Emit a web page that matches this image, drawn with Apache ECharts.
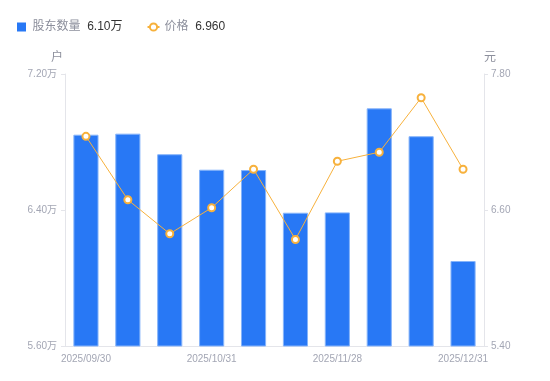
<!DOCTYPE html>
<html>
<head>
<meta charset="utf-8">
<script src="https://cdn.jsdelivr.net/npm/echarts@6/dist/echarts.min.js"></script>
<style>
html,body{margin:0;padding:0;background:#fff;}
#chart{width:550px;height:381px;}
</style>
</head>
<body>
<div id="chart"></div>
<script>
const categories = ['2025/09/30','2025/10/10','2025/10/20','2025/10/31','2025/11/10','2025/11/20','2025/11/28','2025/12/10','2025/12/19','2025/12/31'];
const holders = [6.843, 6.849, 6.728, 6.637, 6.635, 6.384, 6.386, 6.998, 6.834, 6.10]; // 万户
const prices = [7.25, 6.69, 6.39, 6.62, 6.96, 6.34, 7.03, 7.11, 7.59, 6.96];
const leftTicks = [5.6, 7.2];
const rightTicks = [5.4, 7.8];

const blue = '#2878F5';
const orange = '#F7B13C';
const labelGray = '#A3A6B4';
const axisGray = '#E4E5EA';
const font = '"Liberation Sans","Noto Sans CJK SC",sans-serif';

const chart = echarts.init(document.getElementById('chart'), null, {renderer:'canvas'});
const lastHolder = holders[holders.length-1].toFixed(2) + '万';
const lastPrice = prices[prices.length-1].toFixed(3);

chart.setOption({
  animation:false,
  textStyle:{fontFamily:font},
  legend:{
    left:12, top:16,
    itemWidth:12, itemHeight:9, itemGap:24,
    data:[
      {name:'股东数量', icon:'path://M0 0H10V10H0Z', itemStyle:{borderWidth:0}},
      {name:'价格'}
    ],
    formatter: function(name){
      return name === '股东数量' ? '{a|股东数量}  {b|' + lastHolder + '}' : '{a|价格}  {b|' + lastPrice + '}';
    },
    textStyle:{
      fontFamily:font,
      rich:{
        a:{color:'#8C8F9C', fontSize:12, fontFamily:font},
        b:{color:'#333', fontSize:12, fontFamily:font}
      }
    }
  },
  grid:{left:65, right:66, top:74, bottom:35},
  xAxis:{
    type:'category',
    data:categories,
    axisLine:{lineStyle:{color:axisGray}},
    axisTick:{show:false},
    axisLabel:{interval:2, color:labelGray, fontSize:10, margin:8, fontFamily:font}
  },
  yAxis:[
    {
      type:'value', min:leftTicks[0], max:leftTicks[1], interval:0.8,
      name:'户', nameLocation:'end', nameGap:10,
      nameTextStyle:{color:'#8C8F9C', fontSize:12, align:'right', padding:[0,2,0,0], fontFamily:font},
      axisLine:{show:true, lineStyle:{color:axisGray}},
      axisTick:{show:true, length:4, lineStyle:{color:axisGray}},
      splitLine:{show:false},
      axisLabel:{color:labelGray, fontSize:10, margin:8, fontFamily:font, formatter:v=>v.toFixed(2)+'万'}
    },
    {
      type:'value', min:rightTicks[0], max:rightTicks[1], alignTicks:true,
      name:'元', nameLocation:'end', nameGap:10,
      nameTextStyle:{color:'#8C8F9C', fontSize:12, align:'left', fontFamily:font},
      axisLine:{show:true, lineStyle:{color:axisGray}},
      axisTick:{show:true, length:4, lineStyle:{color:axisGray}},
      splitLine:{show:false},
      axisLabel:{color:labelGray, fontSize:10, margin:7, fontFamily:font, formatter:v=>v.toFixed(2)}
    }
  ],
  series:[
    {
      name:'股东数量', type:'bar', yAxisIndex:0, data:holders, barWidth:'60%',
      itemStyle:{color:blue, borderColor:'#86B4FA', borderWidth:1}
    },
    {
      name:'价格', type:'line', yAxisIndex:1, data:prices,
      symbol:'circle', symbolSize:7, showAllSymbol:true,
      lineStyle:{color:orange, width:1},
      itemStyle:{color:'#fff', borderColor:orange, borderWidth:2}
    }
  ]
});
</script>
</body>
</html>
